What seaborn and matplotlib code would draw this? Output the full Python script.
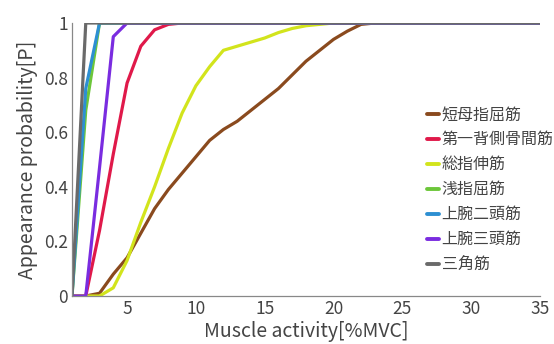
import numpy as np
import pandas as pd
import matplotlib
matplotlib.use("Agg")
import matplotlib.pyplot as plt
import seaborn as sns

x = list(range(1, 36))

brown = [0, 0, 0.01, 0.08, 0.14, 0.23, 0.32, 0.39, 0.45, 0.51, 0.57, 0.61, 0.64, 0.68, 0.72,
         0.76, 0.81, 0.86, 0.90, 0.94, 0.97, 0.995] + [1] * 13
red = [0, 0, 0.24, 0.52, 0.78, 0.915, 0.975, 0.995] + [1] * 27
yellow = [0, 0, 0, 0.03, 0.13, 0.27, 0.40, 0.54, 0.67, 0.77, 0.84, 0.90, 0.915, 0.93, 0.945,
          0.965, 0.98, 0.99, 0.995] + [1] * 16
green = [0, 0.68] + [1] * 33
blue = [0, 0.76] + [1] * 33
purple = [0, 0, 0.47, 0.95] + [1] * 31
gray = [0] + [1] * 34

names = ["短母指屈筋", "第一背側骨間筋", "総指伸筋", "浅指屈筋", "上腕二頭筋", "上腕三頭筋", "三角筋"]
series = [brown, red, yellow, green, blue, purple, gray]
colors = ["#8a4a1e", "#e0194a", "#d2e41c", "#6cc63a", "#2d8fd2", "#7a2ce0", "#6a6a6a"]

xticks = [5, 10, 15, 20, 25, 30, 35]
yticks = [0, 0.2, 0.4, 0.6, 0.8, 1]
ytick_labels = ["0", "0.2", "0.4", "0.6", "0.8", "1"]

df = pd.DataFrame({
    "x": x * len(names),
    "y": sum(series, []),
    "muscle": sum([[n] * len(x) for n in names], []),
})

sns.set_theme(style="white")
plt.rcParams["font.family"] = ["Noto Sans CJK JP", "DejaVu Sans"]

fig = plt.figure(figsize=(5.54, 3.44), dpi=100)
ax = fig.add_axes([72 / 554, 1 - 296 / 344, (540 - 72) / 554, (296 - 23) / 344])

sns.lineplot(data=df, x="x", y="y", hue="muscle", hue_order=names,
             palette=colors, linewidth=2.3, ax=ax, legend=True)

ax.set_xlim(1, 35)
ax.set_ylim(0, 1)
ax.set_xticks(xticks)
ax.set_xticklabels([str(t) for t in xticks])
ax.set_yticks(yticks)
ax.set_yticklabels(ytick_labels)
ax.tick_params(direction="in", length=3, width=0.8, colors="#888888",
               labelcolor="#444444", labelsize=12.5, pad=3)
for s in ["top", "right"]:
    ax.spines[s].set_visible(False)
for s in ["left", "bottom"]:
    ax.spines[s].set_color("#888888")
    ax.spines[s].set_linewidth(0.9)

ax.set_xlabel("Muscle activity[%MVC]", fontsize=14, color="#444444", labelpad=2)
ax.set_ylabel("Appearance probability[P]", fontsize=14, color="#444444", labelpad=4)

leg = ax.legend(loc="upper left", bbox_to_anchor=(0.759, 0.695), frameon=False,
                fontsize=11.5, handlelength=0.75, handletextpad=0.15,
                labelspacing=0.5, borderaxespad=0, borderpad=0)
for t in leg.get_texts():
    t.set_color("#444444")
for h in leg.get_lines():
    h.set_linewidth(2.8)

fig.savefig("out.png", dpi=100)
